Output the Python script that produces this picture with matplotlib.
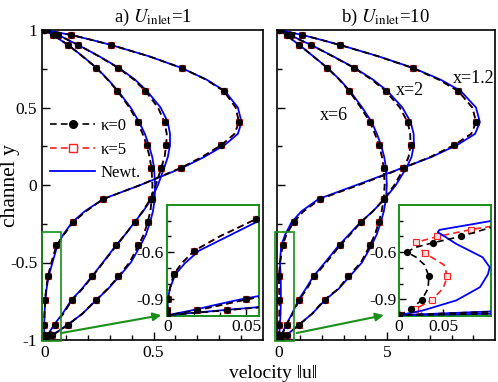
import matplotlib
matplotlib.use('Agg')
import matplotlib.pyplot as plt
from matplotlib.patches import Rectangle
from matplotlib.lines import Line2D

plt.rcParams['font.family'] = ['Liberation Serif', 'DejaVu Serif']
plt.rcParams['mathtext.fontset'] = 'stix'
plt.rcParams['axes.unicode_minus'] = False
plt.rcParams['font.size'] = 12.5

# channel positions (y) where profiles were read, and rows that carry markers
Y = [1.0, 0.968, 0.935, 0.903, 0.83, 0.755, 0.68, 0.606, 0.5, 0.406, 0.33, 0.258, 0.18, 0.11, 0.0,
     -0.09, -0.17, -0.24, -0.32, -0.39, -0.5, -0.59, -0.67, -0.74, -0.83, -0.9, -0.94, -0.968, -1.0]
MARK = [0, 1, 3, 5, 7, 9, 11, 13, 15, 17, 19, 21, 23, 25, 27, 28]

# a) U_inlet = 1
u1_x12_k0 = [0, 0.124, 0.22, 0.307, 0.48, 0.628, 0.74, 0.821, 0.875, 0.89, 0.87, 0.81, 0.72, 0.624, 0.44,
             0.271, 0.19, 0.133, 0.09, 0.056, 0.033, 0.017, 0.009, 0.004, 0.0015, 0.0004, 0.0001, 0, 0]
u1_x12_newt = [0, 0.124, 0.22, 0.307, 0.48, 0.628, 0.742, 0.826, 0.885, 0.902, 0.885, 0.825, 0.73, 0.63, 0.44,
               0.27, 0.185, 0.128, 0.087, 0.06, 0.038, 0.02, 0.011, 0.005, 0.0015, 0.0003, 0.0001, 0, 0]
u1_x2_k0 = [0, 0.064, 0.11, 0.156, 0.25, 0.339, 0.41, 0.463, 0.52, 0.55, 0.56, 0.558, 0.55, 0.535, 0.51,
            0.486, 0.45, 0.413, 0.37, 0.33, 0.27, 0.22, 0.175, 0.128, 0.088, 0.05, 0.032, 0.019, 0]
u1_x2_newt = [0, 0.064, 0.11, 0.156, 0.252, 0.342, 0.415, 0.47, 0.532, 0.565, 0.575, 0.575, 0.565, 0.548, 0.52,
              0.49, 0.452, 0.413, 0.37, 0.328, 0.268, 0.218, 0.172, 0.125, 0.084, 0.046, 0.028, 0.016, 0]
u1_x6_k0 = [0, 0.041, 0.075, 0.11, 0.175, 0.239, 0.29, 0.335, 0.39, 0.427, 0.45, 0.468, 0.482, 0.49, 0.495,
            0.492, 0.485, 0.473, 0.455, 0.431, 0.39, 0.339, 0.29, 0.239, 0.175, 0.11, 0.07, 0.0375, 0]
u1_x6_newt = [0, 0.041, 0.075, 0.11, 0.176, 0.24, 0.292, 0.338, 0.395, 0.434, 0.46, 0.478, 0.494, 0.502, 0.507,
              0.505, 0.497, 0.484, 0.465, 0.44, 0.396, 0.343, 0.292, 0.24, 0.175, 0.108, 0.068, 0.035, 0]

# b) U_inlet = 10
u10_x12_k0 = [0, 1.1, 2.0, 2.84, 4.6, 6.19, 7.4, 8.3, 8.95, 9.13, 8.9, 8.12, 7.0, 5.75, 3.7,
              1.93, 1.15, 0.69, 0.36, 0.18, 0.07, 0.009, 0.024, 0.034, 0.032, 0.026, 0.019, 0.013, 0]
u10_x12_newt = [0, 1.1, 2.0, 2.85, 4.62, 6.22, 7.48, 8.42, 9.12, 9.3, 9.08, 8.25, 7.05, 5.72, 3.6,
                1.85, 1.05, 0.6, 0.3, 0.12, 0.058, 0.095, 0.102, 0.1, 0.088, 0.06, 0.038, 0.022, 0]
u10_x2_k0 = [0, 0.55, 1.0, 1.51, 2.5, 3.49, 4.3, 4.95, 5.6, 5.96, 6.08, 6.1, 6.0, 5.8, 5.35,
             4.88, 4.35, 3.81, 3.3, 2.84, 2.2, 1.65, 1.3, 0.96, 0.65, 0.37, 0.24, 0.15, 0]
u10_x2_newt = [0, 0.55, 1.0, 1.51, 2.52, 3.52, 4.36, 5.03, 5.72, 6.1, 6.24, 6.25, 6.14, 5.9, 5.42,
               4.9, 4.35, 3.78, 3.25, 2.78, 2.14, 1.6, 1.25, 0.92, 0.62, 0.35, 0.22, 0.14, 0]
u10_x6_k0 = [0, 0.37, 0.65, 0.96, 1.6, 2.25, 2.8, 3.26, 3.8, 4.22, 4.45, 4.63, 4.78, 4.86, 4.9,
             4.86, 4.76, 4.63, 4.45, 4.22, 3.8, 3.22, 2.75, 2.12, 1.55, 0.96, 0.62, 0.37, 0]
u10_x6_newt = [0, 0.37, 0.65, 0.96, 1.6, 2.26, 2.82, 3.3, 3.86, 4.3, 4.54, 4.73, 4.88, 4.96, 5.0,
               4.96, 4.86, 4.72, 4.53, 4.29, 3.85, 3.28, 2.77, 2.16, 1.55, 0.95, 0.61, 0.36, 0]

# zoom of x=1.2 near the lower wall, U_inlet = 10 (recirculation)
zin_y_k0 = [-1.0, -0.963, -0.902, -0.83, -0.754, -0.68, -0.63, -0.6, -0.57, -0.54, -0.5, -0.47, -0.445, -0.42]
zin_u_k0 = [0, 0.0133, 0.026, 0.033, 0.034, 0.029, 0.019, 0.009, 0.018, 0.0386, 0.07, 0.088, 0.103, 0.12]
zin_mark_k0 = [0, 1, 2, 4, 7, 9, 10]
zin_y_k5 = [-1.0, -0.963, -0.902, -0.83, -0.754, -0.68, -0.604, -0.56, -0.537, -0.5, -0.456, -0.43]
zin_u_k5 = [0, 0.0178, 0.0375, 0.05, 0.055, 0.051, 0.029, 0.021, 0.0197, 0.0436, 0.082, 0.11]
zin_mark_k5 = [0, 1, 2, 4, 6, 8, 9, 10]
zin_y_newt = [-1.0, -0.97, -0.906, -0.822, -0.74, -0.695, -0.632, -0.547, -0.5, -0.473, -0.458, -0.43, -0.403]
zin_u_newt = [0, 0.027, 0.065, 0.092, 0.101, 0.103, 0.095, 0.065, 0.052, 0.044, 0.046, 0.075, 0.103]

GREEN = '#1a8f1a'
RED = '#ff2020'
DASH = (4, 2.5)


def profile(ax, k0, newt, y=Y, mark=MARK):
    ax.plot(k0, y, color=RED, lw=1.2, dashes=DASH, marker='s', ms=4.6, mfc='#ffb0b0',
            mec=RED, mew=0.8, markevery=mark, zorder=2)
    ax.plot(newt, y, color='blue', lw=1.3, zorder=3)
    ax.plot(k0, y, color='black', lw=1.2, dashes=DASH, marker='o', ms=4.2,
            markevery=mark, zorder=4)


def style(ax):
    for s in ax.spines.values():
        s.set_linewidth(1.2)
    ax.tick_params(which='both', direction='in', top=False, right=False, width=1.0)
    ax.tick_params(which='major', length=6)
    ax.tick_params(which='minor', length=3.5)


fig = plt.figure(figsize=(4.98, 3.82), dpi=100)
axL = fig.add_axes([42 / 498, 1 - 340 / 382, 221 / 498, 310 / 382])
axR = fig.add_axes([276.5 / 498, 1 - 340 / 382, 218.5 / 498, 310 / 382])

for k0, nw in [(u1_x12_k0, u1_x12_newt), (u1_x2_k0, u1_x2_newt), (u1_x6_k0, u1_x6_newt)]:
    profile(axL, k0, nw)
for k0, nw in [(u10_x12_k0, u10_x12_newt), (u10_x2_k0, u10_x2_newt), (u10_x6_k0, u10_x6_newt)]:
    profile(axR, k0, nw)

axL.set_xlim(-0.01, 1.0)
axR.set_xlim(-0.1, 10.0)
for ax in (axL, axR):
    ax.set_ylim(-1, 1)
    ax.set_yticks([-1, -0.5, 0, 0.5, 1])
    ax.set_yticks([-0.75, -0.25, 0.25, 0.75], minor=True)
    style(ax)
axL.set_yticklabels(['-1', '-0.5', '0', '0.5', '1'])
axR.set_yticklabels([])
axL.set_xticks([0, 0.5])
axL.set_xticklabels(['0', '0.5'])
axL.set_xticks([0.1, 0.2, 0.3, 0.4, 0.6, 0.7, 0.8, 0.9], minor=True)
axR.set_xticks([0, 5])
axR.set_xticklabels(['0', '5'])
axR.set_xticks([1, 2, 3, 4, 6, 7, 8, 9], minor=True)

axL.set_title(r'a) $U_{\mathrm{inlet}}$=1', fontsize=13.5, pad=6)
axR.set_title(r'b) $U_{\mathrm{inlet}}$=10', fontsize=13.5, pad=6)

axR.text(2.57, 0.45, 'x=6', ha='center', va='center', fontsize=13)
axR.text(6.06, 0.61, 'x=2', ha='center', va='center', fontsize=13)
axR.text(9.0, 0.69, 'x=1.2', ha='center', va='center', fontsize=13)

handles = [Line2D([], [], color='black', lw=1.2, dashes=DASH, marker='o', ms=5.5),
           Line2D([], [], color=RED, lw=1.2, dashes=DASH, marker='s', ms=6, mfc='white', mec=RED),
           Line2D([], [], color='blue', lw=1.3)]
axL.legend(handles, ['κ=0', 'κ=5', 'Newt.'], loc='upper left', bbox_to_anchor=(0.0, 0.742),
           frameon=False, handlelength=2.7, handletextpad=0.3, labelspacing=0.45,
           borderaxespad=0.1, fontsize=12)

fig.text(273 / 498, 1 - 373 / 382, 'velocity ‖u‖', ha='center', va='center', fontsize=14)
fig.text(11 / 498, 1 - 186 / 382, 'channel y', ha='center', va='center', rotation=90, fontsize=15.5)

# zoom boxes and arrows
axL.add_patch(Rectangle((-0.0106, -1.005), 0.0886, 0.705, fill=False, ec=GREEN, lw=1.2, clip_on=False, zorder=5))
axR.add_patch(Rectangle((-0.18, -1.005), 0.91, 0.705, fill=False, ec=GREEN, lw=1.2, clip_on=False, zorder=5))
axL.annotate('', xy=(0.535, -0.84), xytext=(0.078, -0.955), annotation_clip=False,
             arrowprops=dict(arrowstyle='-|>', color=GREEN, lw=1.5, mutation_scale=12, shrinkA=0, shrinkB=0))
axR.annotate('', xy=(4.86, -0.84), xytext=(0.83, -0.955), annotation_clip=False,
             arrowprops=dict(arrowstyle='-|>', color=GREEN, lw=1.5, mutation_scale=12, shrinkA=0, shrinkB=0))

# insets
insL = fig.add_axes([166.7 / 498, 1 - 316 / 382, 92.3 / 498, 111 / 382])
insR = fig.add_axes([399 / 498, 1 - 316 / 382, 92 / 498, 111 / 382])
for k0, nw in [(u1_x12_k0, u1_x12_newt), (u1_x2_k0, u1_x2_newt), (u1_x6_k0, u1_x6_newt)]:
    profile(insL, k0, nw)
for k0, nw in [(u10_x2_k0, u10_x2_newt), (u10_x6_k0, u10_x6_newt)]:
    profile(insR, k0, nw)
insR.plot(zin_u_k5, zin_y_k5, color=RED, lw=1.2, dashes=DASH, marker='s', ms=4.6, mfc='#ffe0e0',
          mec=RED, mew=0.8, markevery=zin_mark_k5, zorder=2)
insR.plot(zin_u_newt, zin_y_newt, color='blue', lw=1.3, zorder=3)
insR.plot(zin_u_k0, zin_y_k0, color='black', lw=1.2, dashes=DASH, marker='o', ms=4.2,
          markevery=zin_mark_k0, zorder=4)

insL.set_xlim(-0.0005, 0.058)
insR.set_xlim(0, 0.1045)
for ins in (insL, insR):
    ins.set_ylim(-1.005, -0.3)
    ins.set_yticks([-0.9, -0.6])
    ins.set_yticklabels(['-0.9', '-0.6'])
    ins.set_yticks([-0.8, -0.7, -0.5, -0.4], minor=True)
    ins.set_xticks([0, 0.05])
    ins.set_xticklabels(['0', '0.05'])
    style(ins)
    ins.tick_params(which='major', length=5, pad=2)
    ins.tick_params(which='minor', length=3)
    for s in ins.spines.values():
        s.set_color(GREEN)
        s.set_linewidth(1.4)
insL.set_xticks([0.0167, 0.0333], minor=True)
insR.set_xticks([0.025, 0.075, 0.1], minor=True)

fig.savefig('out.png', dpi=100)
